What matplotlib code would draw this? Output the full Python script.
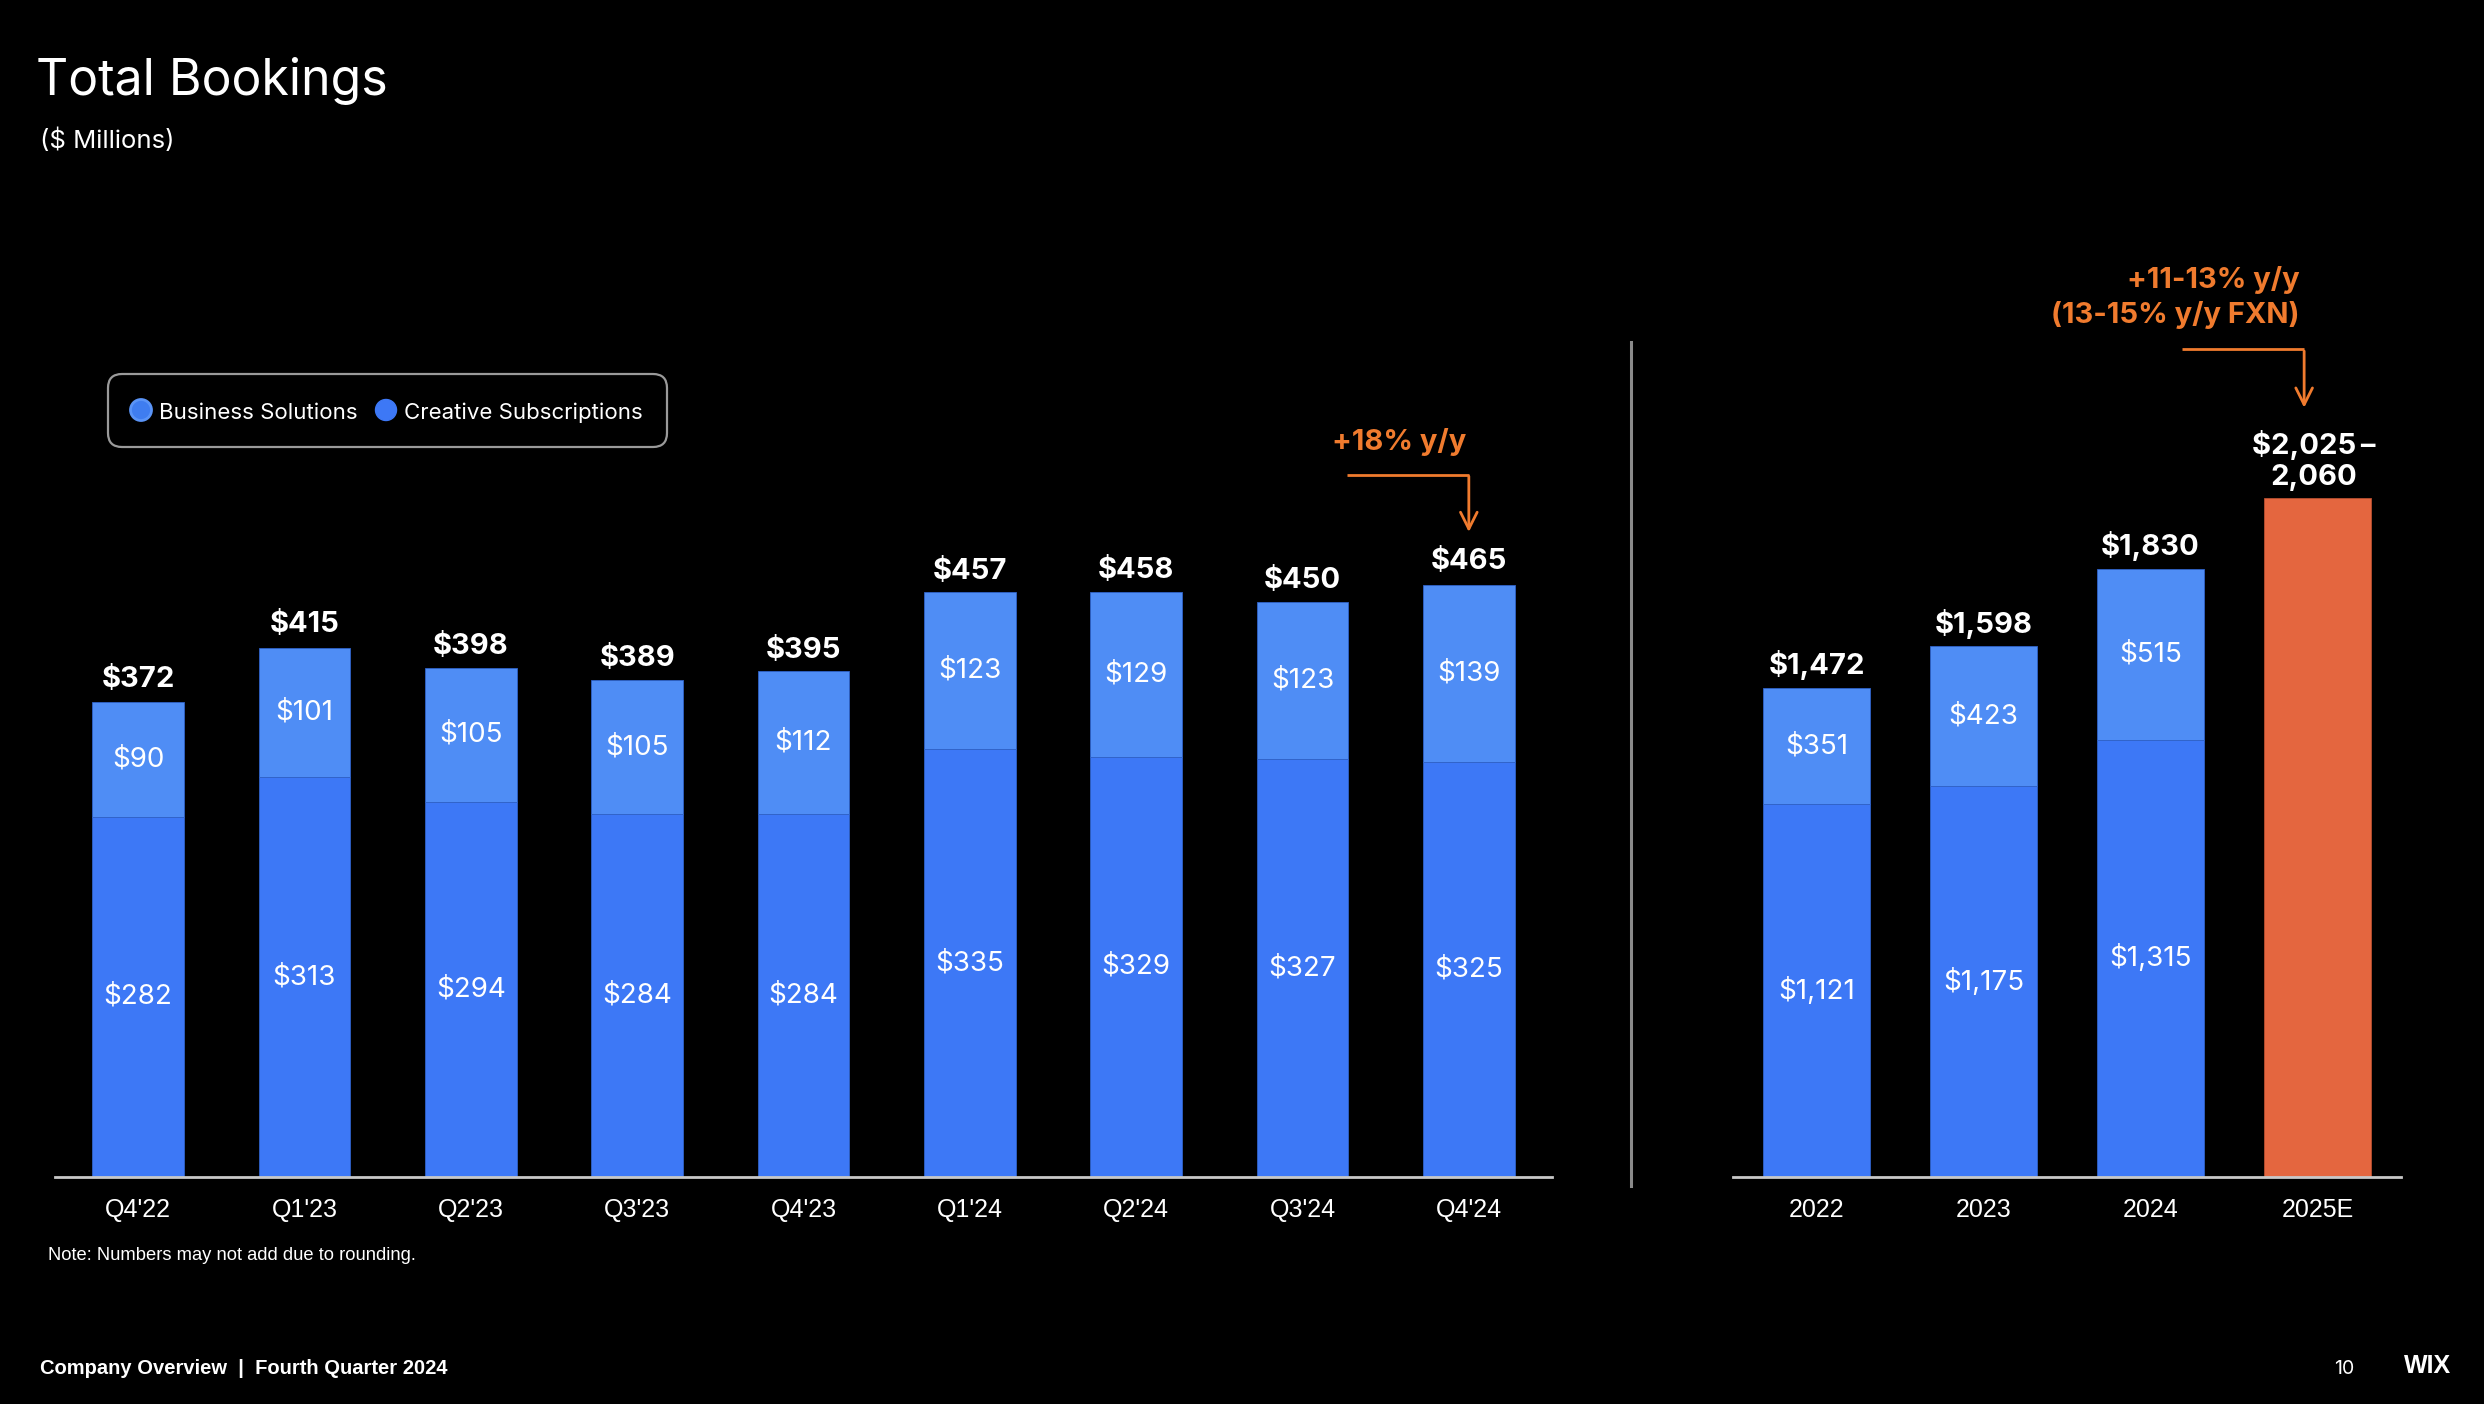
import numpy as np
import matplotlib.pyplot as plt
from matplotlib.patches import FancyBboxPatch, Circle

# quarterly bookings ($M)
quarters = ["Q4'22", "Q1'23", "Q2'23", "Q3'23", "Q4'23", "Q1'24", "Q2'24", "Q3'24", "Q4'24"]
q_creative = [282, 313, 294, 284, 284, 335, 329, 327, 325]
q_business = [90, 101, 105, 105, 112, 123, 129, 123, 139]
q_total = [372, 415, 398, 389, 395, 457, 458, 450, 465]

# annual bookings ($M)
years = ["2022", "2023", "2024", "2025E"]
y_creative = [1121, 1175, 1315]
y_business = [351, 423, 515]
y_total = [1472, 1598, 1830]
guide_low, guide_high = 2025, 2060

C_CREATIVE = "#3D78F6"
C_BUSINESS = "#4F8DF5"
C_EDGE = "#2F62C8"
C_ORANGE_BAR = "#E4663F"
C_ORANGE_TXT = "#F07B2E"

W, H = 2484, 1404
FONT = ["Inter", "DejaVu Sans"]
NARROW = ["Liberation Sans Narrow", "Liberation Sans", "DejaVu Sans"]
plt.rcParams['font.family'] = FONT

fig = plt.figure(figsize=(W / 100, H / 100), dpi=100, facecolor="black")


def fx(px):
    return px / W


def fy(py):
    return 1 - py / H


base = 1177  # pixel row of bar baseline
top = 300


def make_axes(x0, x1, ymax):
    ax = fig.add_axes([fx(x0), fy(base), fx(x1) - fx(x0), (base - top) / H])
    ax.set_facecolor("black")
    for s in ["top", "right", "left"]:
        ax.spines[s].set_visible(False)
    ax.spines["bottom"].set_color("#C8C8C8")
    ax.spines["bottom"].set_linewidth(2.0)
    ax.set_yticks([])
    ax.set_ylim(0, ymax)
    ax.tick_params(axis="x", length=0, pad=15, colors="white")
    return ax


# ---- quarterly panel
ax1 = make_axes(55, 1552, (base - top) / 1.2768)
x = np.arange(len(quarters))
ax1.bar(x, q_creative, width=0.55, color=C_CREATIVE, edgecolor=C_EDGE, linewidth=0.6)
ax1.bar(x, q_business, width=0.55, bottom=q_creative, color=C_BUSINESS, edgecolor=C_EDGE, linewidth=0.6)
ax1.set_xlim(-0.5, 8.5)
ax1.set_xticks(x)
ax1.set_xticklabels(quarters, family=NARROW, fontsize=18)

for i in range(len(quarters)):
    ax1.text(i, q_creative[i] / 2, "$%d" % q_creative[i], ha="center", va="center",
             color="white", fontsize=20)
    ax1.text(i, q_creative[i] + q_business[i] / 2, "$%d" % q_business[i], ha="center",
             va="center", color="white", fontsize=20)
    ax1.annotate("$%d" % q_total[i], (i, q_total[i]), xytext=(0, 16), textcoords="offset points",
                 ha="center", va="center", color="white", fontsize=21, fontweight="bold")

# +18% y/y callout
ax1.plot([7.27, 8.0], [550, 550], color=C_ORANGE_TXT, lw=2, solid_capstyle="butt")
ax1.annotate("", xy=(8.0, 503), xytext=(8.0, 551),
             arrowprops=dict(arrowstyle="->", color=C_ORANGE_TXT, lw=2, mutation_scale=30))
ax1.text(7.58, 576, "+18% y/y", ha="center", va="center", color=C_ORANGE_TXT,
         fontsize=21, fontweight="bold")

# ---- annual panel
ax2 = make_axes(1733, 2401, (base - top) / 0.3324)
xa = np.arange(len(years))
ax2.bar(xa[:3], y_creative, width=0.635, color=C_CREATIVE, edgecolor=C_EDGE, linewidth=0.6)
ax2.bar(xa[:3], y_business, width=0.635, bottom=y_creative, color=C_BUSINESS,
        edgecolor=C_EDGE, linewidth=0.6)
ax2.bar(xa[3], (guide_low + guide_high) / 2, width=0.635, color=C_ORANGE_BAR,
        edgecolor="#B84F30", linewidth=0.6)
ax2.set_xlim(-0.5, 3.5)
ax2.set_xticks(xa)
ax2.set_xticklabels(years, family=NARROW, fontsize=18)

for i in range(3):
    ax2.text(i, y_creative[i] / 2, "${:,}".format(y_creative[i]), ha="center", va="center",
             color="white", fontsize=20)
    ax2.text(i, y_creative[i] + y_business[i] / 2, "${:,}".format(y_business[i]), ha="center",
             va="center", color="white", fontsize=20)
    ax2.annotate("${:,}".format(y_total[i]), (i, y_total[i]), xytext=(0, 16),
                 textcoords="offset points", ha="center", va="center", color="white",
                 fontsize=21, fontweight="bold")

mid = (guide_low + guide_high) / 2
ax2.annotate("${:,}\u2009–\n{:,}".format(guide_low, guide_high), (3, mid), xytext=(-3, 5),
             textcoords="offset points", ha="center", va="bottom", color="white",
             fontsize=21, fontweight="bold", linespacing=1.2, multialignment="center")

ax2.plot([2.19, 2.92], [2492, 2492], color=C_ORANGE_TXT, lw=2, solid_capstyle="butt")
ax2.annotate("", xy=(2.92, 2306), xytext=(2.92, 2493),
             arrowprops=dict(arrowstyle="->", color=C_ORANGE_TXT, lw=2, mutation_scale=30))
ax2.text(2.89, 2700, "+11-13% y/y", ha="right", va="center", color=C_ORANGE_TXT,
         fontsize=21, fontweight="bold")
ax2.text(2.89, 2594, "(13-15% y/y FXN)", ha="right", va="center", color=C_ORANGE_TXT,
         fontsize=21, fontweight="bold")

# separator
fig.add_artist(plt.Line2D([fx(1631), fx(1631)], [fy(342), fy(1186)], color="#8A8A8A", lw=2.2))

# ---- titles
fig.text(fx(36), fy(95), "Total Bookings", color="white", fontsize=36, va="baseline")
fig.text(fx(40), fy(141), "($ Millions)", color="white", fontsize=18.5, va="center")

# ---- legend (drawn by hand)
inch = fig.dpi_scale_trans
box = FancyBboxPatch((108 / 100, (H - 447) / 100), (667 - 108) / 100, (447 - 374) / 100,
                     boxstyle="round,pad=0,rounding_size=0.14", transform=inch,
                     facecolor="black", edgecolor="#9A9A9A", lw=1.6)
fig.add_artist(box)
fig.add_artist(Circle((141 / 100, (H - 410) / 100), 0.105, transform=inch,
                      facecolor="#3F7DF0", edgecolor="#5A94F7", lw=2))
fig.add_artist(Circle((386 / 100, (H - 410) / 100), 0.105, transform=inch,
                      facecolor=C_CREATIVE, edgecolor=C_CREATIVE, lw=1))
fig.text(fx(159), fy(413), "Business Solutions", color="white", fontsize=16, va="center")
fig.text(fx(404), fy(413), "Creative Subscriptions", color="white", fontsize=16, va="center")

# ---- footer
fig.text(fx(48), fy(1256), "Note: Numbers may not add due to rounding.", color="white",
         fontsize=13.2, va="center", family=NARROW)
fig.text(fx(40), fy(1369), "Company Overview  |  Fourth Quarter 2024", color="white",
         fontsize=14.5, fontweight="bold", va="center", family=NARROW)
fig.text(fx(2344), fy(1369), "10", color="white", fontsize=14, ha="center", va="center")
fig.text(fx(2428), fy(1366), "WIX", color="white", fontsize=18, fontweight="bold",
         ha="center", va="center", family=NARROW)

fig.savefig("out.png", dpi=100, facecolor="black")
